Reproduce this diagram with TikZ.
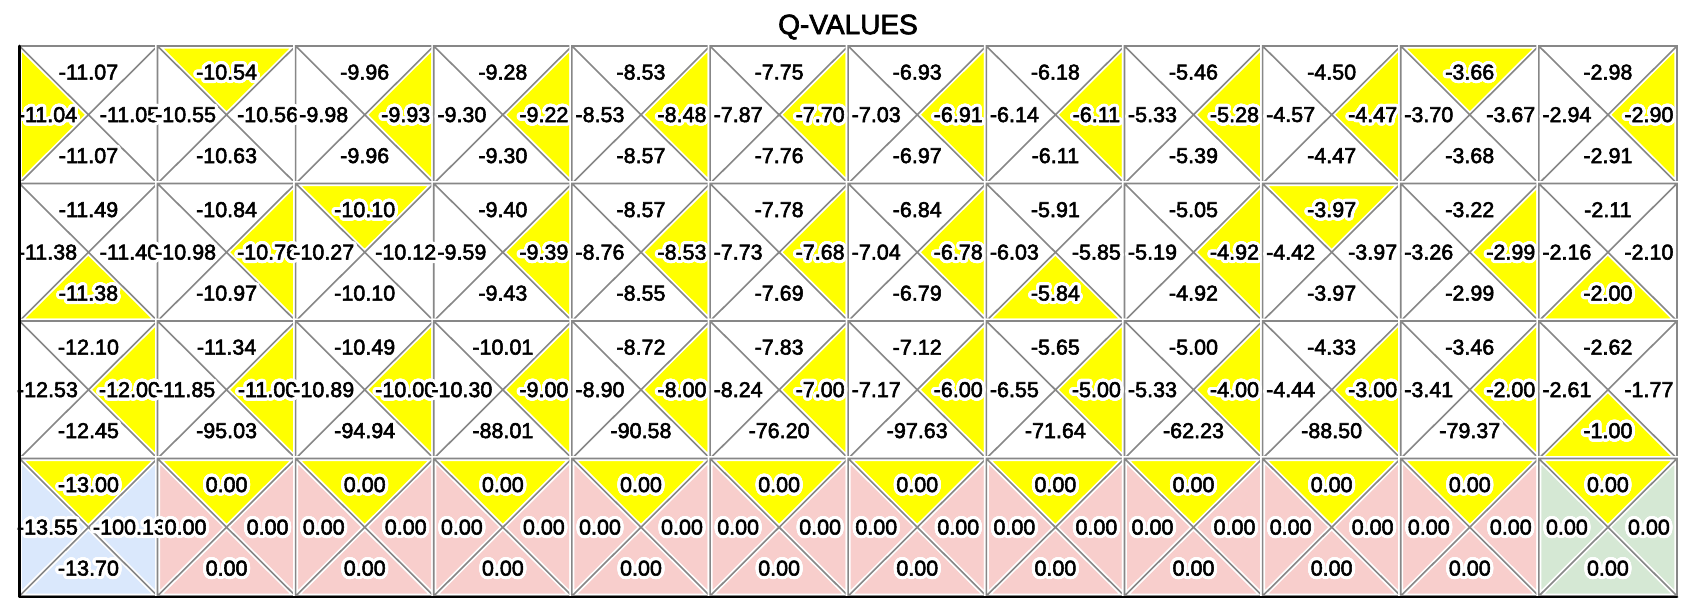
\documentclass[tikz,border=0pt]{standalone}
\usepackage{fontspec}
\setmainfont{Liberation Sans}[FakeBold=2.5]
\usepackage{contour}
\contourlength{3.2pt}
\contournumber{32}
\definecolor{qyellow}{RGB}{255,255,0}
\definecolor{qblue}{RGB}{218,232,252}
\definecolor{qpink}{RGB}{248,206,204}
\definecolor{qgreen}{RGB}{213,232,212}
\definecolor{qwhite}{RGB}{255,255,255}
\definecolor{qgrid}{RGB}{135,135,135}
\newcommand\qtriU{(\xa,\ya) -- (\xb,\ya) -- (\xm,\ym) -- cycle}
\newcommand\qtriL{(\xa,\ya) -- (\xa,\yb) -- (\xm,\ym) -- cycle}
\newcommand\qtriR{(\xb,\ya) -- (\xb,\yb) -- (\xm,\ym) -- cycle}
\newcommand\qtriD{(\xa,\yb) -- (\xb,\yb) -- (\xm,\ym) -- cycle}
\def\qdata{%
0/0/-11.07/-11.04/-11.05/-11.07/L/qwhite,
0/1/-10.54/-10.55/-10.56/-10.63/U/qwhite,
0/2/-9.96/-9.98/-9.93/-9.96/R/qwhite,
0/3/-9.28/-9.30/-9.22/-9.30/R/qwhite,
0/4/-8.53/-8.53/-8.48/-8.57/R/qwhite,
0/5/-7.75/-7.87/-7.70/-7.76/R/qwhite,
0/6/-6.93/-7.03/-6.91/-6.97/R/qwhite,
0/7/-6.18/-6.14/-6.11/-6.11/R/qwhite,
0/8/-5.46/-5.33/-5.28/-5.39/R/qwhite,
0/9/-4.50/-4.57/-4.47/-4.47/R/qwhite,
0/10/-3.66/-3.70/-3.67/-3.68/U/qwhite,
0/11/-2.98/-2.94/-2.90/-2.91/R/qwhite,
1/0/-11.49/-11.38/-11.40/-11.38/D/qwhite,
1/1/-10.84/-10.98/-10.76/-10.97/R/qwhite,
1/2/-10.10/-10.27/-10.12/-10.10/U/qwhite,
1/3/-9.40/-9.59/-9.39/-9.43/R/qwhite,
1/4/-8.57/-8.76/-8.53/-8.55/R/qwhite,
1/5/-7.78/-7.73/-7.68/-7.69/R/qwhite,
1/6/-6.84/-7.04/-6.78/-6.79/R/qwhite,
1/7/-5.91/-6.03/-5.85/-5.84/D/qwhite,
1/8/-5.05/-5.19/-4.92/-4.92/R/qwhite,
1/9/-3.97/-4.42/-3.97/-3.97/U/qwhite,
1/10/-3.22/-3.26/-2.99/-2.99/R/qwhite,
1/11/-2.11/-2.16/-2.10/-2.00/D/qwhite,
2/0/-12.10/-12.53/-12.00/-12.45/R/qwhite,
2/1/-11.34/-11.85/-11.00/-95.03/R/qwhite,
2/2/-10.49/-10.89/-10.00/-94.94/R/qwhite,
2/3/-10.01/-10.30/-9.00/-88.01/R/qwhite,
2/4/-8.72/-8.90/-8.00/-90.58/R/qwhite,
2/5/-7.83/-8.24/-7.00/-76.20/R/qwhite,
2/6/-7.12/-7.17/-6.00/-97.63/R/qwhite,
2/7/-5.65/-6.55/-5.00/-71.64/R/qwhite,
2/8/-5.00/-5.33/-4.00/-62.23/R/qwhite,
2/9/-4.33/-4.44/-3.00/-88.50/R/qwhite,
2/10/-3.46/-3.41/-2.00/-79.37/R/qwhite,
2/11/-2.62/-2.61/-1.77/-1.00/D/qwhite,
3/0/-13.00/-13.55/-100.13/-13.70/U/qblue,
3/1/0.00/0.00/0.00/0.00/U/qpink,
3/2/0.00/0.00/0.00/0.00/U/qpink,
3/3/0.00/0.00/0.00/0.00/U/qpink,
3/4/0.00/0.00/0.00/0.00/U/qpink,
3/5/0.00/0.00/0.00/0.00/U/qpink,
3/6/0.00/0.00/0.00/0.00/U/qpink,
3/7/0.00/0.00/0.00/0.00/U/qpink,
3/8/0.00/0.00/0.00/0.00/U/qpink,
3/9/0.00/0.00/0.00/0.00/U/qpink,
3/10/0.00/0.00/0.00/0.00/U/qpink,
3/11/0.00/0.00/0.00/0.00/U/qgreen}
\begin{document}
\begin{tikzpicture}[x=1pt,y=-1pt,
  gridline/.style={draw=qgrid, line width=1.6pt, line cap=round,
    preaction={draw=white, line width=5pt, line cap=round}},
  spine/.style={draw=black, line width=2.8pt, line cap=round, line join=round},
  qlabel/.style={inner sep=0pt, font=\fontsize{21.5}{24}\selectfont},
  qtitle/.style={inner sep=0pt, font=\fontsize{28}{32}\selectfont}]
\useasboundingbox (0,0) rectangle (1691,613);
\fill[white] (0,0) rectangle (1691,613);
% cells
\foreach \row/\col/\qu/\ql/\qr/\qd/\qb/\qbg in \qdata {
  \pgfmathsetmacro\xa{19.4+138.13*\col}
  \pgfmathsetmacro\xb{\xa+138.13}
  \pgfmathsetmacro\xm{\xa+69.065}
  \pgfmathsetmacro\ya{46+137.5*\row}
  \pgfmathsetmacro\yb{\ya+137.5}
  \pgfmathsetmacro\ym{\ya+68.75}
  \fill[\qbg] (\xa,\ya) rectangle (\xb,\yb);
  \expandafter\let\expandafter\qbest\csname qtri\qb\endcsname
  \fill[qyellow] \qbest;
  \path[gridline] (\xa,\ya) rectangle (\xb,\yb)
    (\xa,\ya) -- (\xb,\yb) (\xb,\ya) -- (\xa,\yb);
}
% labels
\foreach \row/\col/\qu/\ql/\qr/\qd/\qb/\qbg in \qdata {
  \pgfmathsetmacro\xm{19.4+138.13*\col+69.065}
  \pgfmathsetmacro\ym{46+137.5*\row+68.75}
  \node[qlabel] (u-\row-\col) at (\xm,\ym-41) {\contour{white}{\qu}};
  \node[qlabel] (l-\row-\col) at (\xm-41,\ym+1.5) {\contour{white}{\ql}};
  \node[qlabel] (r-\row-\col) at (\xm+41,\ym+1.5) {\contour{white}{\qr}};
  \node[qlabel] (d-\row-\col) at (\xm,\ym+42.5) {\contour{white}{\qd}};
}
\path[spine] (19.4,46) -- (19.4,597) -- (1677,597);
\node[qtitle] (title) at (848,27) {Q-VALUES};
\end{tikzpicture}
\end{document}
